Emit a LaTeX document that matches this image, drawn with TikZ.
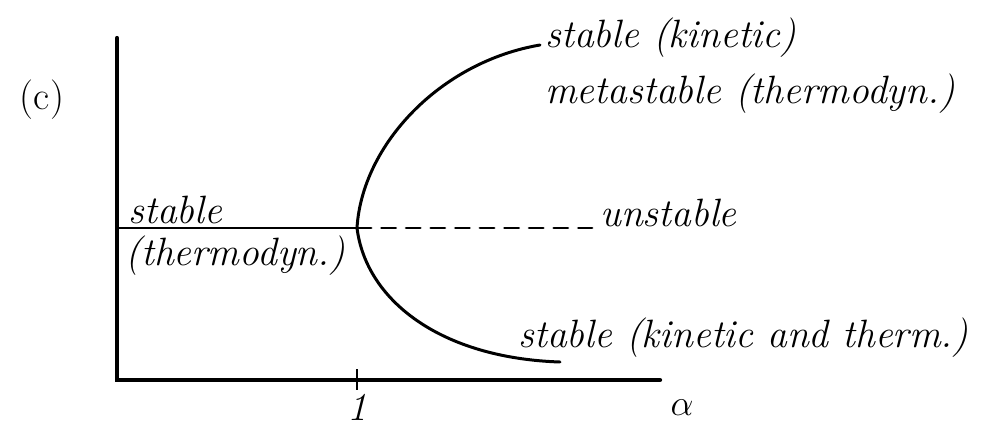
\documentclass[tikz,border=0pt]{standalone}
\usepackage{tikz}
\usetikzlibrary{positioning}

\begin{document}
\begin{tikzpicture}[
  x=0.02cm, y=-0.02cm,
  axis/.style={line width=2.4pt, line cap=round},
  branch/.style={line width=1.7pt, line cap=round},
  lbl/.style={font=\fontsize{22.5}{26}\selectfont\itshape, inner sep=0pt},
  tick/.style={line width=1.6pt}
]
\useasboundingbox (0,0) rectangle (985,430);

% axes
\coordinate (origin) at (117,380);
\coordinate (ytop) at (117,38);
\coordinate (xend) at (660,380);
\draw[axis] (ytop) -- (origin) -- (xend);

\coordinate (bif) at (357,228);
\coordinate (ticktop) at (357,369);
\coordinate (tickbot) at (357,390);
\draw[tick] (ticktop) -- (tickbot);

% branches
\coordinate (upend) at (540,45);
\coordinate (lowend) at (560,362);
\coordinate (dashend) at (592,228);
\draw[branch] (origin |- bif) -- (bif);
\draw[branch, dash pattern=on 8pt off 6pt] (bif) -- (dashend);
\draw[branch] (bif) .. controls (362,145) and (440,62) .. (upend);
\draw[branch] (bif) .. controls (366,300) and (440,358) .. (lowend);

% labels
\node[lbl, font=\fontsize{22.5}{26}\selectfont] (panel) at (42,100) {(c)};
\node[lbl] (one) at (357,407) {1};
\node[lbl] (alpha) at (682,408) {$\alpha$};
\node[lbl, anchor=south west] (lstable) at (128,224) {stable};
\node[lbl, anchor=north west] (lthermo) at (125,235) {(thermodyn.)};
\node[lbl, anchor=west] (unstable) at (600,213) {unstable};
\node[lbl, anchor=west] (upstable) at (545,38) {stable (kinetic)};
\node[lbl, below=9pt of upstable.south west, anchor=north west] (meta) {metastable (thermodyn.)};
\node[lbl, anchor=west] (lowstable) at (518,338) {stable (kinetic and therm.)};
\end{tikzpicture}
\end{document}
